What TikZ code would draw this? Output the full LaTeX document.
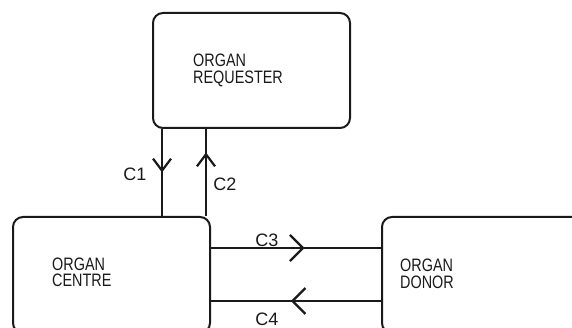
\documentclass[tikz,border=0pt]{standalone}
\usepackage{fontspec}
\setmainfont{Liberation Sans}
\newfontfamily\boxfont[FakeStretch=0.80]{Liberation Sans}
\usetikzlibrary{positioning, arrows.meta, calc, decorations.markings}
\definecolor{ink}{HTML}{1a1a1a}

\begin{document}
\begin{tikzpicture}[x=1pt, y=-1pt,
  box/.style={draw=ink, line width=2pt, rounded corners=10pt, inner sep=0pt},
  boxtxt/.style={anchor=base west, inner sep=0pt, align=left, font=\boxfont\fontsize{18}{17}\selectfont, text=ink},
  lbl/.style={inner sep=0pt, font=\fontsize{18}{20}\selectfont, text=ink},
  flowv/.style={draw=ink, line width=1.5pt, postaction={decorate},
    decoration={markings, mark=at position #1 with {\arrow[line width=2.2pt]{Straight Barb[length=12pt, width=18pt]}}}},
  flowh/.style={draw=ink, line width=1.5pt, postaction={decorate},
    decoration={markings, mark=at position #1 with {\arrow[line width=2.2pt]{Straight Barb[length=13pt, width=26pt]}}}}]
\clip (0,0) rectangle (572,328);
\fill[white] (0,0) rectangle (572,328);

\node[box, minimum width=197, minimum height=115] (req) at (251.5,70.5) {};
\node[box, minimum width=197, minimum height=116] (cen) at (111.5,275) {};
\node[box, minimum width=218, minimum height=116] (don) at (491,275) {};

\node[boxtxt] (reqtxt) at (193,84) {ORGAN\\REQUESTER};
\node[boxtxt] (centxt) at (52,287) {ORGAN\\CENTRE};
\node[boxtxt] (dontxt) at (400,288) {ORGAN\\DONOR};

\coordinate (c1a) at ([xshift=10pt]req.south west);
\coordinate (c2a) at ([xshift=-5pt]cen.north east);
\coordinate (c3a) at ([yshift=-32pt]cen.north east);
\coordinate (c4a) at ([yshift=-85pt]don.north west);

\draw[flowv=0.5] (c1a) -- (c1a |- cen.north);
\draw[flowv=0.73] (c2a) -- (c2a |- req.south);
\draw[flowh=0.55] (c3a) -- (c3a -| don.west);
\draw[flowh=0.53] (c4a) -- (c4a -| cen.east);

\node[lbl] (c1) at (135,174) {C1};
\node[lbl] (c2) at (225,184) {C2};
\node[lbl] (c3) at (267,240) {C3};
\node[lbl] (c4) at (267,319) {C4};
\end{tikzpicture}
\end{document}
